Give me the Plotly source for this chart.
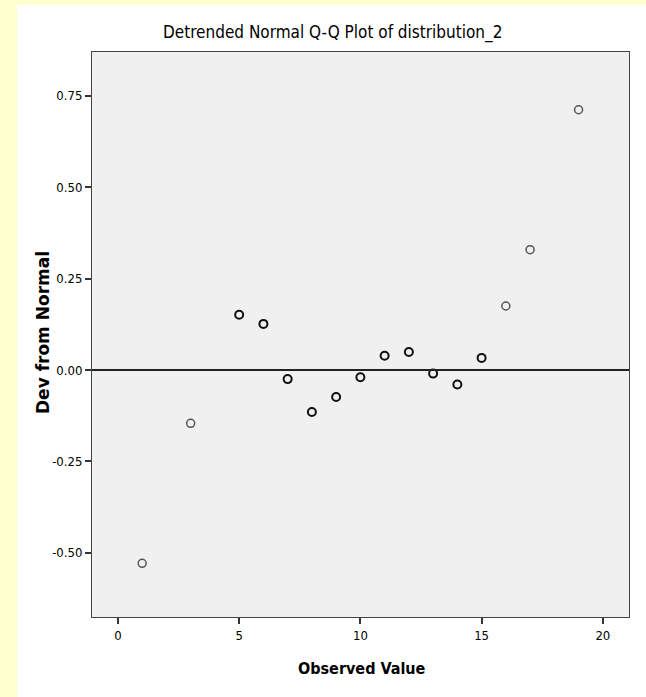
import plotly.graph_objects as go

# ---- data ----
observed_value = [1, 3, 5, 6, 7, 8, 9, 10, 11, 12, 13, 14, 15, 16, 17, 19]
dev_from_normal = [-0.529, -0.146, 0.151, 0.126, -0.025, -0.115, -0.074, -0.020,
                   0.039, 0.049, -0.010, -0.040, 0.033, 0.175, 0.329, 0.712]
case_count = [1, 1, 2, 2, 2, 2, 2, 2, 2, 2, 2, 2, 2, 1, 1, 1]
x_tick_vals = [0, 5, 10, 15, 20]
x_tick_labels = ["0", "5", "10", "15", "20"]
y_tick_vals = [-0.50, -0.25, 0.00, 0.25, 0.50, 0.75]
y_tick_labels = ["-0.50", "-0.25", "0.00", "0.25", "0.50", "0.75"]
reference_level = 0.0

W, H = 646, 697
L, R, T, B = 92, 629, 52, 617
pw, ph = R - L, B - T


def px(x):
    return (x - L) / pw


def py(y):
    return (B - y) / ph


NARROW = "Liberation Sans Narrow, Arial Narrow, DejaVu Sans Condensed, sans-serif"

line_colors = ["#111111" if c > 1 else "#555555" for c in case_count]
line_widths = [2.0 if c > 1 else 1.5 for c in case_count]

fig = go.Figure()
fig.add_trace(go.Scatter(
    x=observed_value, y=dev_from_normal, mode="markers",
    marker=dict(symbol="circle-open", size=8, color=line_colors,
                line=dict(color=line_colors, width=line_widths)),
    showlegend=False, hoverinfo="x+y"))

shapes = [
    dict(type="line", xref="paper", yref="y", x0=0, x1=1,
         y0=reference_level, y1=reference_level,
         line=dict(color="#222222", width=2), layer="above"),
    dict(type="rect", xref="paper", yref="paper", x0=px(0), x1=px(17),
         y0=py(H + 5), y1=py(-5), fillcolor="#FFFFD0", line=dict(width=0), layer="below"),
    dict(type="rect", xref="paper", yref="paper", x0=px(0), x1=px(W + 5),
         y0=py(5), y1=py(-5), fillcolor="#FFFFD0", line=dict(width=0), layer="below"),
]

annotations = [
    dict(text="Detrended Normal Q-Q Plot of distribution_2", xref="paper", yref="paper",
         x=px(332), y=py(33), xanchor="center", yanchor="middle", showarrow=False,
         font=dict(family=NARROW, size=17, color="#000000")),
    dict(text="<b>Observed Value</b>", xref="paper", yref="paper",
         x=px(362), y=py(668), xanchor="center", yanchor="middle", showarrow=False,
         font=dict(family=NARROW, size=16, color="#000000")),
    dict(text="<b>Dev from Normal</b>", xref="paper", yref="paper", textangle=-90,
         x=px(43), y=py(333), xanchor="center", yanchor="middle", showarrow=False,
         font=dict(family="DejaVu Sans, Verdana, sans-serif", size=17, color="#000000")),
]

axis_common = dict(showgrid=False, zeroline=False, showline=True, mirror=True,
                   linecolor="#444444", linewidth=1, ticks="outside", ticklen=6,
                   tickwidth=1.5, tickcolor="#333333",
                   tickfont=dict(family=NARROW, size=13, color="#000000"))

fig.update_layout(
    width=W, height=H,
    margin=dict(l=L, r=W - R, t=T, b=H - B, pad=0),
    paper_bgcolor="#FFFFFF", plot_bgcolor="#F0F0F0",
    xaxis=dict(range=[-1.07, 21.08], tickvals=x_tick_vals, ticktext=x_tick_labels,
               **axis_common),
    yaxis=dict(range=[-0.676, 0.870], tickvals=y_tick_vals, ticktext=y_tick_labels,
               **axis_common),
    shapes=shapes, annotations=annotations,
)

fig.write_html("out.html")
